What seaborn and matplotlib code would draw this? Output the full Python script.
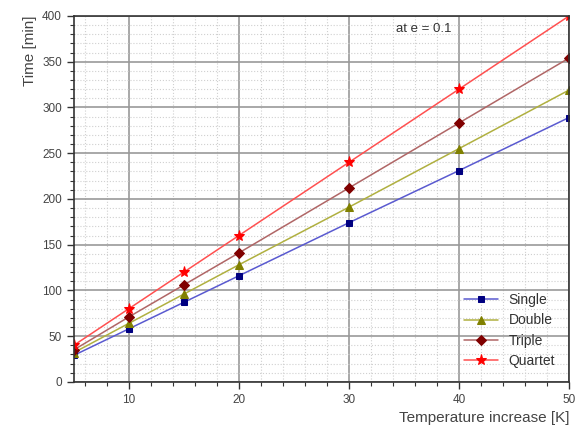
import matplotlib
matplotlib.use("Agg")
import matplotlib.pyplot as plt
import seaborn as sns
import pandas as pd
from matplotlib.ticker import MultipleLocator

temps = [5, 10, 15, 20, 30, 40, 50]
single = [29, 58, 87, 116, 174, 231, 289]
double = [32, 64, 96, 128, 191, 255, 319]
triple = [35, 71, 106, 141, 212, 283, 354]
quartet = [40, 80, 120, 160, 240, 320, 400]
series_names = ["Single", "Double", "Triple", "Quartet"]

sns.set_style("white")
plt.rcParams['font.family'] = ['Liberation Sans', 'DejaVu Sans']

fig = plt.figure(figsize=(5.86, 4.32), dpi=100)
ax = fig.add_axes([0.126, 0.116, 0.845, 0.847])

styles = {
    "Single": dict(color="#5a5ad0", marker="s", mfc="#000080", mec="#000080", ms=5),
    "Double": dict(color="#b0b040", marker="^", mfc="#808000", mec="#808000", ms=6),
    "Triple": dict(color="#b06666", marker="D", mfc="#800000", mec="#800000", ms=5),
    "Quartet": dict(color="#ff5050", marker="*", mfc="#ff0000", mec="#ff0000", ms=8),
}
values = [single, double, triple, quartet]
for name, vals in zip(series_names, values):
    df = pd.DataFrame({"T": temps, "v": vals})
    st = styles[name]
    sns.lineplot(data=df, x="T", y="v", ax=ax, color=st["color"], marker=st["marker"],
                 markerfacecolor=st["mfc"], markeredgecolor=st["mec"], markersize=st["ms"],
                 linewidth=1.1, label=name)

ax.set_xlim(5, 50)
ax.set_ylim(0, 400)
ax.xaxis.set_major_locator(MultipleLocator(10))
ax.xaxis.set_minor_locator(MultipleLocator(2))
ax.yaxis.set_major_locator(MultipleLocator(50))
ax.yaxis.set_minor_locator(MultipleLocator(10))
ax.grid(which="major", color="#999999", linewidth=1.2, linestyle="-")
ax.grid(which="minor", color="#d0d0d0", linewidth=0.8, linestyle=":")
ax.set_axisbelow(True)
for sp in ax.spines.values():
    sp.set_color("#333333")
    sp.set_linewidth(1.2)
ax.tick_params(which="major", direction="out", length=5, width=1, colors="#333333",
               labelsize=8.5, labelcolor="#444444", bottom=True, left=True)
ax.tick_params(which="minor", direction="out", length=3, width=0.8, colors="#333333",
               bottom=True, left=True)
ax.set_xticks([10, 20, 30, 40, 50])

ax.set_xlabel("Temperature increase [K]", fontsize=11, color="#444444", loc="right")
ax.set_ylabel("Time [min]", fontsize=11, color="#444444", loc="top")
ax.text(39.3, 392, "at e = 0.1", fontsize=9.5, color="#333333", va="top", ha="right")

leg = ax.legend(loc="lower right", frameon=False, fontsize=10, handlelength=2.4,
                labelspacing=0.45, borderaxespad=0.6, bbox_to_anchor=(1.0, 0.0))
for t in leg.get_texts():
    t.set_color("#333333")

fig.savefig("out.png", dpi=100)
